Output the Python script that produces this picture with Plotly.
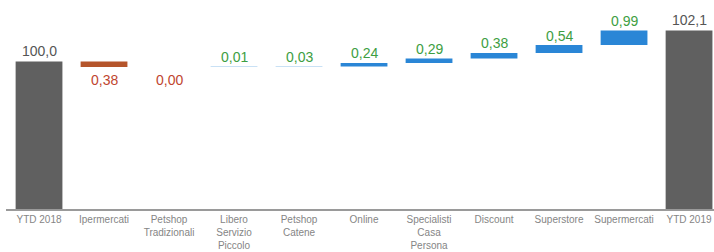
import plotly.graph_objects as go

categories = ["YTD 2018", "Ipermercati", "Petshop<br>Tradizionali", "Libero<br>Servizio<br>Piccolo",
              "Petshop<br>Catene", "Online", "Specialisti<br>Casa<br>Persona", "Discount",
              "Superstore", "Supermercati", "YTD 2019"]
values = [100.0, -0.38, -0.00, 0.01, 0.03, 0.24, 0.29, 0.38, 0.54, 0.99, 102.1]
measures = ["absolute", "relative", "relative", "relative", "relative", "relative",
            "relative", "relative", "relative", "relative", "total"]
value_labels = ["100,0", "0,38", "0,00", "0,01", "0,03", "0,24", "0,29", "0,38", "0,54", "0,99", "102,1"]
kinds = ["total", "down", "down", "up", "up", "up", "up", "up", "up", "up", "total"]

C_TOTAL = "#606060"
C_DOWN = "#b5552b"
C_UP = "#2a86d6"
T_TOTAL = "#555555"
T_DOWN = "#c0452f"
T_UP = "#3d9e42"

fig = go.Figure()
fig.add_trace(go.Waterfall(
    x=categories, y=values, measure=measures,
    base=0, width=0.72,
    connector=dict(visible=False),
    increasing=dict(marker=dict(color=C_UP)),
    decreasing=dict(marker=dict(color=C_DOWN)),
    totals=dict(marker=dict(color=C_TOTAL)),
    hoverinfo="skip",
))

# label positions from running level
level = 0.0
for cat, v, m, lab, k in zip(categories, values, measures, value_labels, kinds):
    if m == "absolute" or m == "total":
        level = v
    else:
        level += v
    if k == "total":
        col, shift = T_TOTAL, 10
    elif k == "down":
        col, shift = T_DOWN, -13
    else:
        col, shift = T_UP, 9.5
    fig.add_annotation(x=cat, y=level, text=lab, showarrow=False, yanchor="middle",
                       yshift=shift, font=dict(size=14, color=col,
                                               family="Liberation Sans, Arial, sans-serif"))

fig.update_layout(
    width=714, height=252,
    margin=dict(l=6, r=0, t=0, b=43),
    paper_bgcolor="white", plot_bgcolor="white",
    showlegend=False,
    font=dict(family="Liberation Sans, Arial, sans-serif"),
)
fig.update_xaxes(type="category", range=[-0.508, 10.384], showline=True, linecolor="#9a9a9a",
                 linewidth=1.5, showgrid=False, ticks="", zeroline=False,
                 tickfont=dict(size=10, color="#858585"))
fig.update_yaxes(range=[90, 104.16], visible=False, showgrid=False, zeroline=False)

fig.write_html("out.html", config={"displayModeBar": False, "staticPlot": True},
               post_script="document.body.style.margin='0';document.body.style.overflow='hidden';")
